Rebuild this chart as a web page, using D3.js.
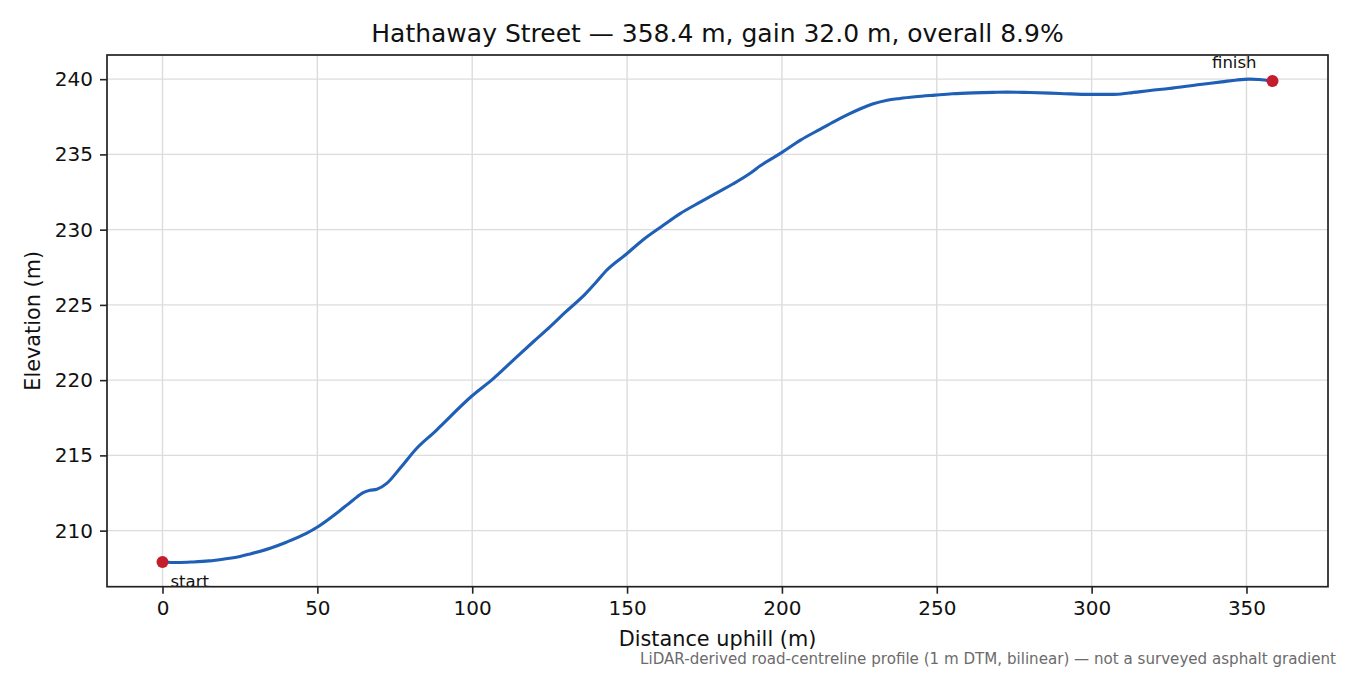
<!DOCTYPE html>
<html>
<head>
<meta charset="utf-8">
<script src="https://cdn.jsdelivr.net/npm/d3@7"></script>
<style>
  html, body { margin: 0; padding: 0; background: #fff; }
  svg { display: block; font-family: "DejaVu Sans", sans-serif; }
</style>
</head>
<body>
<svg id="chart" width="1350" height="675"></svg>
<script>
// ---- data ----
const titleText = "Hathaway Street — 358.4 m, gain 32.0 m, overall 8.9%";
const xLabel = "Distance uphill (m)";
const yLabel = "Elevation (m)";
const footnote = "LiDAR-derived road-centreline profile (1 m DTM, bilinear) — not a surveyed asphalt gradient";
const distance = [0, 5, 10, 15, 20, 25, 28.3, 35, 40, 46.6, 50.3, 56, 61.6, 64.8, 67, 69.2, 72.4, 76.7, 82.1, 88.5, 90.7, 99.8, 106.8, 114.4, 120, 125.1, 130, 136.4, 140, 143.4, 149.9, 155, 161.7, 167, 173.6, 180, 184.3, 190, 193, 199.9, 206, 212.3, 217, 220.9, 225, 229.5, 234, 238.1, 243, 249.4, 255, 261.8, 268, 272.6, 280, 289.8, 299.5, 307, 312, 318.9, 325, 335, 342, 347, 351, 354, 358.4];
const elevation = [207.92, 207.88, 207.92, 207.99, 208.12, 208.28, 208.45, 208.85, 209.23, 209.83, 210.27, 211.12, 212.04, 212.52, 212.68, 212.75, 213.14, 214.14, 215.47, 216.68, 217.13, 218.93, 220.1, 221.55, 222.6, 223.54, 224.5, 225.7, 226.5, 227.3, 228.4, 229.3, 230.29, 231.05, 231.83, 232.56, 233.05, 233.78, 234.24, 235.12, 235.95, 236.67, 237.2, 237.61, 238.0, 238.36, 238.6, 238.72, 238.83, 238.94, 239.03, 239.09, 239.12, 239.14, 239.11, 239.05, 238.99, 238.99, 239.08, 239.25, 239.38, 239.65, 239.82, 239.95, 240.0, 239.98, 239.88];
const xTicks = [0, 50, 100, 150, 200, 250, 300, 350];
const yTicks = [210, 215, 220, 225, 230, 235, 240];
const endLabels = ["start", "finish"];

// ---- layout ----
const svg = d3.select("#chart");
const L = 107, R = 1328, T = 55, B = 586.7;
const xmin = d3.min(distance), xmax = d3.max(distance);
const ymin = d3.min(elevation), ymax = d3.max(elevation);
const xpad = (xmax - xmin) * 0.05, ypad = (ymax - ymin) * 0.05;
const x = d3.scaleLinear().domain([xmin - xpad, xmax + xpad]).range([L, R]);
const y = d3.scaleLinear().domain([ymin - ypad, ymax + ypad]).range([B, T]);

const data = distance.map((d, i) => ({d, e: elevation[i]}));

// grid
const grid = svg.append("g");
grid.selectAll(".gx").data(xTicks).join("line")
  .attr("x1", d => x(d)).attr("x2", d => x(d)).attr("y1", T).attr("y2", B)
  .attr("stroke", "#dcdcdc").attr("stroke-width", 1.4);
grid.selectAll(".gy").data(yTicks).join("line")
  .attr("y1", d => y(d)).attr("y2", d => y(d)).attr("x1", L).attr("x2", R)
  .attr("stroke", "#dcdcdc").attr("stroke-width", 1.4);

// line
const line = d3.line().x(p => x(p.d)).y(p => y(p.e)).curve(d3.curveMonotoneX);
svg.append("path").datum(data).attr("d", line)
  .attr("fill", "none").attr("stroke", "#1f5fb5").attr("stroke-width", 3.1)
  .attr("stroke-linejoin", "round").attr("stroke-linecap", "round");

// end points
const ends = [data[0], data[data.length - 1]];
svg.selectAll(".dot").data(ends).join("circle")
  .attr("cx", p => x(p.d)).attr("cy", p => y(p.e)).attr("r", 6)
  .attr("fill", "#c41e2e");

// labels
svg.append("text").attr("x", x(ends[0].d) + 8).attr("y", y(ends[0].e) + 25)
  .attr("font-size", 16.5).attr("fill", "#111").text(endLabels[0]);
svg.append("text").attr("x", x(ends[1].d) - 16).attr("y", y(ends[1].e) - 13)
  .attr("text-anchor", "end").attr("font-size", 16.5).attr("fill", "#111").text(endLabels[1]);

// axes
const xAxis = d3.axisBottom(x).tickValues(xTicks).tickSize(7).tickPadding(7).tickFormat(d3.format("d"));
const yAxis = d3.axisLeft(y).tickValues(yTicks).tickSize(7).tickPadding(7).tickFormat(d3.format("d"));
const gx = svg.append("g").attr("transform", `translate(0,${B})`).call(xAxis);
const gy = svg.append("g").attr("transform", `translate(${L},0)`).call(yAxis);
[gx, gy].forEach(g => {
  g.select(".domain").remove();
  g.selectAll(".tick line").attr("stroke", "#222").attr("stroke-width", 1.6);
  g.selectAll(".tick text").attr("font-size", 20).attr("fill", "#111")
    .attr("font-family", "DejaVu Sans, sans-serif");
});

// frame
svg.append("rect").attr("x", L).attr("y", T).attr("width", R - L).attr("height", B - T)
  .attr("fill", "none").attr("stroke", "#222").attr("stroke-width", 1.7);

// titles
svg.append("text").attr("x", (L + R) / 2).attr("y", 42).attr("text-anchor", "middle")
  .attr("font-size", 25).attr("fill", "#111").text(titleText);
svg.append("text").attr("x", (L + R) / 2).attr("y", 646).attr("text-anchor", "middle")
  .attr("font-size", 20.8).attr("fill", "#111").text(xLabel);
svg.append("text").attr("transform", `translate(40,${(T + B) / 2}) rotate(-90)`)
  .attr("text-anchor", "middle").attr("font-size", 20.8).attr("fill", "#111").text(yLabel);
svg.append("text").attr("x", 1336).attr("y", 664).attr("text-anchor", "end")
  .attr("font-size", 15.1).attr("fill", "#6b6b6b").text(footnote);
</script>
</body>
</html>
